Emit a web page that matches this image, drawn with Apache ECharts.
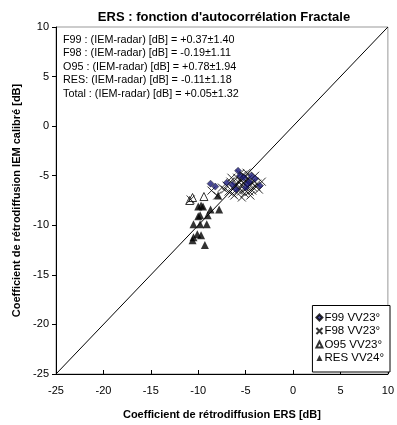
<!DOCTYPE html>
<html lang="fr">
<head>
  <meta charset="UTF-8">
  <title>ERS : fonction d'autocorrélation Fractale</title>
  <script src="https://cdn.jsdelivr.net/npm/echarts@6/dist/echarts.min.js"></script>
  <style>
    body { margin: 0; background: #fff; }
    #chart { width: 397px; height: 425px; }
  </style>
</head>
<body>
  <div id="chart"></div>
  <script>
    // données [x = ERS, y = IEM calibré]
    const f99 = [[-8.7,-5.8],[-8.2,-6.1],[-7.0,-5.7],[-6.4,-5.9],[-5.8,-4.5],[-5.6,-5.0],[-5.2,-5.2],
      [-4.6,-5.6],[-4.4,-5.0],[-4.0,-5.3],[-3.5,-6.0],[-5.0,-6.2],[-6.0,-6.4],[-4.8,-5.8]];
    const f98 = [[-10.8,-7.4],[-8.6,-6.5],[-8.0,-7.0],[-7.5,-6.2],[-7.0,-6.0],[-6.6,-5.6],[-6.3,-6.3],
      [-6.0,-5.8],[-5.8,-6.5],[-5.5,-5.5],[-5.3,-6.0],[-5.1,-6.8],[-5.0,-5.1],[-4.8,-6.2],[-4.6,-6.6],
      [-4.4,-5.7],[-4.2,-6.2],[-4.0,-5.0],[-3.8,-5.8],[-3.6,-6.4],[-3.3,-5.6],[-5.6,-4.8],[-6.2,-7.0],
      [-5.4,-7.2],[-4.9,-4.7],[-5.9,-5.2],[-4.5,-7.0],[-6.8,-6.6],[-6.5,-5.2],[-6.1,-6.0],[-5.7,-6.2],
      [-5.5,-6.6],[-5.2,-5.7],[-5.0,-5.5],[-4.7,-5.3],[-4.3,-6.5],[-4.1,-5.6],[-3.9,-6.1],[-5.3,-4.9],
      [-5.8,-5.6],[-7.2,-6.4],[-4.6,-6.0],[-5.1,-6.4],[-6.4,-6.8]];
    const o95 = [[-10.9,-7.5],[-10.6,-7.2],[-9.4,-7.1]];
    const res = [[-7.9,-7.0],[-9.7,-8.0],[-9.5,-8.1],[-10.0,-8.1],[-8.7,-8.4],[-7.8,-8.4],[-10.0,-9.1],
      [-9.8,-9.0],[-9.0,-9.0],[-10.5,-9.9],[-9.8,-9.9],[-9.1,-9.9],[-10.1,-10.9],[-9.7,-11.0],
      [-10.5,-11.2],[-10.6,-11.5],[-9.3,-12.0]];
    const ligne11 = [[-25,-25],[10,10]];

    const seriesNames = ['F99 VV23°', 'F98 VV23°', 'O95 VV23°', 'RES VV24°'];
    const statLines = [
      'F99 : (IEM-radar) [dB] = +0.37±1.40',
      'F98 : (IEM-radar) [dB] = -0.19±1.11',
      'O95 : (IEM-radar) [dB] = +0.78±1.94',
      'RES: (IEM-radar) [dB] = -0.11±1.18',
      'Total : (IEM-radar) [dB] = +0.05±1.32'
    ];

    const font = 'Liberation Sans, Arial, sans-serif';
    const crossPath = 'path://M0,0L10,10M10,0L0,10';

    const chart = echarts.init(document.getElementById('chart'));
    chart.setOption({
      animation: false,
      textStyle: { fontFamily: font },
      title: {
        text: "ERS : fonction d'autocorrélation Fractale",
        left: 219, top: 6, textAlign: 'center',
        textStyle: { fontSize: 13, fontWeight: 'bold', color: '#000', fontFamily: font }
      },
      grid: {
        left: 56, right: 6, top: 27, bottom: 47,
        show: true, borderColor: '#999', borderWidth: 1
      },
      legend: {
        orient: 'vertical',
        right: 7, bottom: 53,
        data: seriesNames,
        itemWidth: 6, itemHeight: 6, itemGap: 1.5,
        padding: [6, 6, 8, 3],
        borderColor: '#000', borderWidth: 1,
        backgroundColor: '#fff',
        textStyle: { fontSize: 11.5, lineHeight: 12, color: '#000', padding: [0, 0, 0, -3] }
      },
      xAxis: {
        type: 'value', min: -25, max: 10, interval: 5,
        name: 'Coefficient de rétrodiffusion ERS [dB]',
        nameLocation: 'middle', nameGap: 35,
        nameTextStyle: { fontSize: 11, fontWeight: 'bold', color: '#000' },
        axisLine: { onZero: false, lineStyle: { color: '#000', width: 1 } },
        axisTick: { inside: true, length: 4, lineStyle: { color: '#000' } },
        axisLabel: { fontSize: 11, color: '#000', margin: 11 },
        splitLine: { show: false }
      },
      yAxis: {
        type: 'value', min: -25, max: 10, interval: 5,
        name: 'Coefficient de rétrodiffusion IEM calibré [dB]',
        nameLocation: 'middle', nameGap: 31,
        nameTextStyle: { fontSize: 11, fontWeight: 'bold', color: '#000' },
        axisLine: { onZero: false, lineStyle: { color: '#000', width: 1 } },
        axisTick: { length: 4, lineStyle: { color: '#000' } },
        axisLabel: { fontSize: 11, color: '#000', margin: 7 },
        splitLine: { show: false }
      },
      graphic: [{
        type: 'text', left: 63, top: 33,
        style: {
          text: statLines.join('\n'), fontSize: 10.8, lineHeight: 13.5,
          fill: '#000', fontFamily: font
        }
      }],
      series: [
        {
          type: 'line', data: ligne11, symbol: 'none', silent: true,
          lineStyle: { color: '#000', width: 1 }, z: 1
        },
        {
          name: seriesNames[3], type: 'scatter', data: res, symbol: 'triangle', symbolSize: 8,
          itemStyle: { color: '#000' }
        },
        {
          name: seriesNames[2], type: 'scatter', data: o95, symbol: 'triangle', symbolSize: 8,
          itemStyle: { color: '#fff', borderColor: '#000', borderWidth: 1 }
        },
        {
          name: seriesNames[1], type: 'scatter', data: f98, symbol: crossPath, symbolSize: 8,
          itemStyle: { color: 'transparent', borderColor: '#000', borderWidth: 1 }
        },
        {
          name: seriesNames[0], type: 'scatter', data: f99, symbol: 'diamond', symbolSize: 7,
          itemStyle: { color: '#1c1c7a', borderColor: '#000', borderWidth: 0.5 }
        }
      ]
    });
  </script>
</body>
</html>
